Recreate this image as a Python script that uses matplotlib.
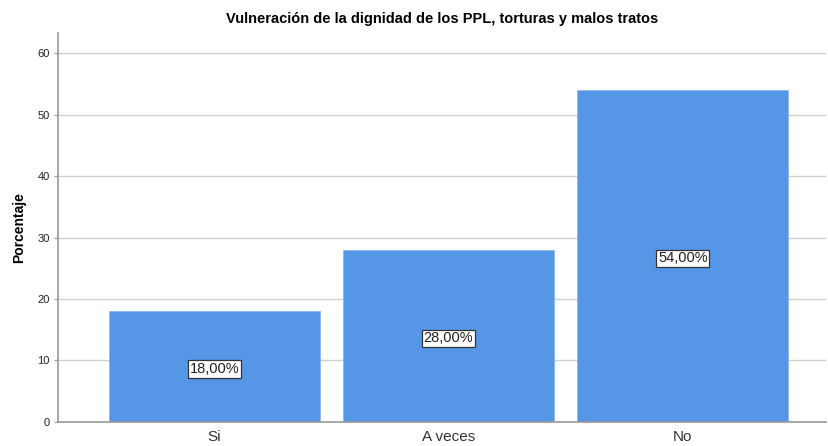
import matplotlib
matplotlib.use('Agg')
import matplotlib.pyplot as plt
import numpy as np

plt.rcParams['font.family'] = ['Liberation Sans', 'DejaVu Sans']

categories = ['Si', 'A veces', 'No']
percentages = [18.0, 28.0, 54.0]
labels = ['18,00%', '28,00%', '54,00%']

BAR_COLOR = '#5596E6'
GRID_COLOR = '#d0d0d0'
SPINE_COLOR = '#9a9a9a'

fig = plt.figure(figsize=(8.29, 4.46), dpi=100)
ax = fig.add_axes([0.070, 0.054, 0.926, 0.872])

x = np.arange(len(categories))
ax.bar(x, percentages, width=0.9, color=BAR_COLOR, edgecolor='#8db8ee',
       linewidth=0.6, zorder=2)

for xi, val, lab in zip(x, percentages, labels):
    ax.text(xi, val / 2 - 0.4, lab, ha='center', va='center', fontsize=10.5,
            color='#222222', zorder=3,
            bbox=dict(boxstyle='square,pad=0.12', facecolor='white',
                      edgecolor='#333333', linewidth=0.9))

ax.set_xlim(-0.667, 2.61)
ax.set_ylim(0, 63.3)
ax.set_yticks([0, 10, 20, 30, 40, 50, 60])
ax.yaxis.grid(True, color=GRID_COLOR, linewidth=1.0, zorder=0)
ax.set_axisbelow(True)

ax.set_xticks(x)
ax.set_xticklabels(categories, fontsize=11, color='#333333')
ax.tick_params(axis='x', length=0, pad=6)
ax.tick_params(axis='y', length=3, width=0.8, color=SPINE_COLOR, labelsize=8,
               labelcolor='#222222', pad=3)

for side in ['top', 'right']:
    ax.spines[side].set_visible(False)
for side in ['left', 'bottom']:
    ax.spines[side].set_color(SPINE_COLOR)
    ax.spines[side].set_linewidth(1.2)

ax.set_ylabel('Porcentaje', fontsize=10, fontweight='bold', labelpad=8)
fig.text(0.533, 0.958, 'Vulneración de la dignidad de los PPL, torturas y malos tratos',
         ha='center', va='center', fontsize=10.5, fontweight='bold')

fig.savefig('out.png', dpi=100)
